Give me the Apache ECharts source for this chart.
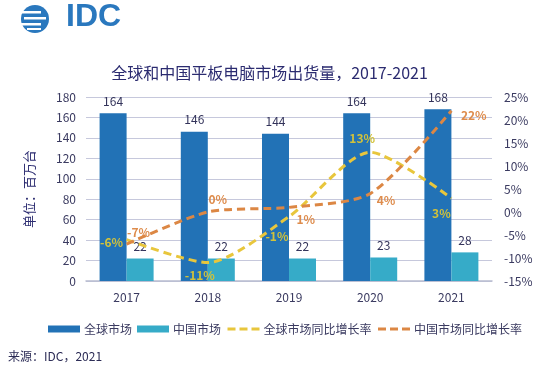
<!DOCTYPE html>
<html><head><meta charset="utf-8">
<script src="https://cdn.jsdelivr.net/npm/echarts@6/dist/echarts.min.js"></script>
<style>html,body{margin:0;padding:0;background:#fff}#c{width:539px;height:372px}</style>
</head><body><div id="c"></div>
<script>
const categories = ['2017','2018','2019','2020','2021'];
const globalShip = [164, 146, 144, 164, 168];
const chinaShip = [22, 22, 22, 23, 28];
const globalGrowth = [-6, -11, -1, 13, 3];
const chinaGrowth = [-7, 0, 1, 4, 22];
const leftTicks = [0, 180, 20];
const rightTicks = [-15, 25, 5];

const FONT = '"Noto Sans CJK SC", "Noto Sans", sans-serif';
const chart = echarts.init(document.getElementById('c'), null, {renderer:'canvas'});

const gLabelPos = [
  {position:'left', offset:[2,3]},
  {position:'bottom', offset:[-8,1]},
  {position:'left', offset:[5,20]},
  {position:'top', offset:[-8,-2]},
  {position:'bottom', offset:[-10,4]}
];
const cLabelPos = [
  {position:'top', offset:[12,0]},
  {position:'top', offset:[10,-1]},
  {position:'right', offset:[2,12]},
  {position:'right', offset:[1,7]},
  {position:'right', offset:[4,5]}
];

chart.setOption({
  animation:false,
  textStyle:{fontFamily:FONT},
  title:{
    text:'全球和中国平板电脑市场出货量，2017-2021',
    left:'center', top:60,
    textStyle:{fontFamily:FONT, fontSize:16, fontWeight:'normal', color:'#2b2b70'}
  },
  graphic:[
    {type:'circle', shape:{cx:35, cy:19, r:14}, style:{fill:'#2a78be'}},
    {type:'rect', shape:{x:19, y:11, width:22, height:2.5}, style:{fill:'#fff'}},
    {type:'rect', shape:{x:24, y:17, width:22, height:2.5}, style:{fill:'#fff'}},
    {type:'rect', shape:{x:19, y:23, width:22, height:2.5}, style:{fill:'#fff'}},
    {type:'rect', shape:{x:27, y:28, width:14, height:2}, style:{fill:'#fff'}},
    {type:'text', left:66, top:1, style:{text:'IDC', font:'bold 32px "Liberation Sans", sans-serif', fill:'#2a78be'}},
    {type:'text', left:8, top:350, style:{text:'来源：IDC，2021', font:'12px '+FONT, fill:'#2b2b55'}}
  ],
  legend:{
    top:318, left:43,
    itemGap:5, itemWidth:32, itemHeight:7,
    textStyle:{fontFamily:FONT, fontSize:12, color:'#3a3a60', padding:[0,0,0,-1]},
    data:[
      {name:'全球市场', icon:'rect'},
      {name:'中国市场', icon:'rect'},
      {name:'全球市场同比增长率', lineStyle:{width:3, type:[8,4]}},
      {name:'中国市场同比增长率', lineStyle:{width:3, type:[8,4]}}
    ]
  },
  grid:{left:86, right:47, top:97, bottom:91},
  xAxis:{
    type:'category', data:categories,
    axisLine:{lineStyle:{color:'#b8bcd0', width:1.5}},
    axisTick:{show:false},
    axisLabel:{color:'#3a3a60', fontSize:12, margin:10}
  },
  yAxis:[
    {
      type:'value', min:leftTicks[0], max:leftTicks[1], interval:leftTicks[2],
      name:'单位：百万台', nameLocation:'middle', nameGap:50, nameRotate:90,
      nameTextStyle:{color:'#2b2b70', fontSize:13, fontFamily:FONT},
      axisLine:{show:false}, axisTick:{show:false},
      axisLabel:{color:'#3a3a60', fontSize:12, margin:10},
      splitLine:{lineStyle:{color:'#c6c8dc', width:1}}
    },
    {
      type:'value', min:rightTicks[0], max:rightTicks[1], interval:rightTicks[2],
      axisLine:{show:false}, axisTick:{show:false},
      axisLabel:{color:'#3a3a60', fontSize:12, margin:12, formatter:'{value}%'},
      splitLine:{show:false}
    }
  ],
  series:[
    {
      name:'全球市场', type:'bar', data:globalShip, barWidth:27, barGap:'0%',
      itemStyle:{color:'#2272b6'},
      label:{show:true, position:'top', color:'#33335a', fontSize:12, distance:6}
    },
    {
      name:'中国市场', type:'bar', data:chinaShip, barWidth:27,
      itemStyle:{color:'#36abc8'},
      label:{show:true, position:'top', color:'#33335a', fontSize:12, distance:6}
    },
    {
      name:'全球市场同比增长率', type:'line', yAxisIndex:1, smooth:0.25,
      data:globalGrowth.map((v,i)=>({value:v, label:gLabelPos[i]})),
      symbol:'circle', symbolSize:1, showSymbol:true,
      lineStyle:{color:'#e8c63c', width:3, type:[8,5]},
      itemStyle:{color:'rgba(0,0,0,0)'},
      label:{show:true, formatter:'{c}%', color:'#d2c23a', fontSize:12, fontWeight:'bold'}
    },
    {
      name:'中国市场同比增长率', type:'line', yAxisIndex:1, smooth:0.25,
      data:chinaGrowth.map((v,i)=>({value:v, label:cLabelPos[i]})),
      symbol:'circle', symbolSize:1, showSymbol:true,
      lineStyle:{color:'#dc8744', width:3, type:[8,5]},
      itemStyle:{color:'rgba(0,0,0,0)'},
      label:{show:true, formatter:'{c}%', color:'#de8c4c', fontSize:12, fontWeight:'bold'}
    }
  ]
});
</script></body></html>
